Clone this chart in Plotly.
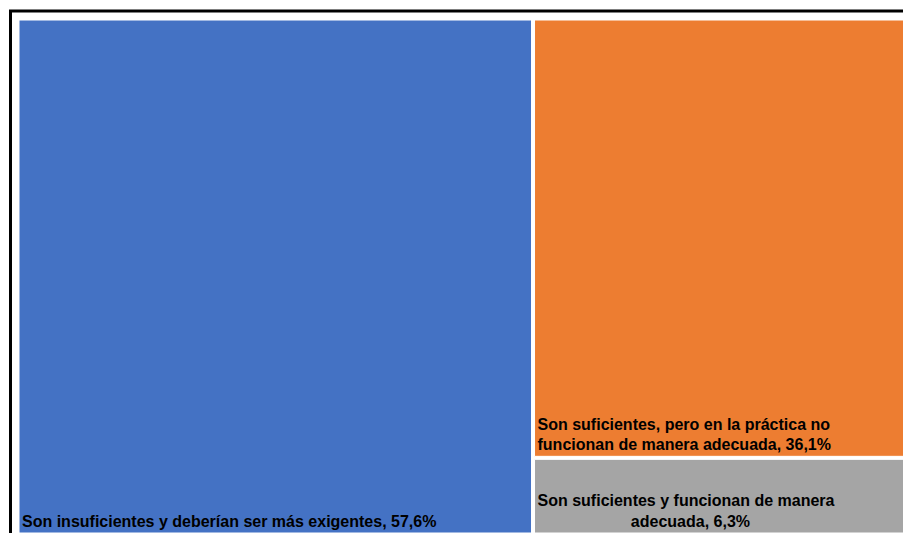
import plotly.graph_objects as go

labels = [
    "Son insuficientes y deberían ser más exigentes",
    "Son suficientes, pero en la práctica no funcionan de manera adecuada",
    "Son suficientes y funcionan de manera adecuada",
]
display_labels = [
    "Son insuficientes y deberían ser más exigentes",
    "Son suficientes, pero en la práctica no<br>funcionan de manera adecuada",
    "Son suficientes y funcionan de manera<br>" + "&nbsp;" * 21 + "adecuada",
]
values = [57.6, 36.1, 6.3]
colors = ["#4472C4", "#ED7D31", "#A5A5A5"]

texts = [f"{d}, {str(v).replace('.', ',')}%" for d, v in zip(display_labels, values)]

W, H = 903, 525
ml, mr, mt, mb = 11, 0, 12, 0
pw, ph = W - ml - mr, H - mt - mb

fig = go.Figure(go.Treemap(
    labels=labels,
    parents=[""] * len(labels),
    values=values,
    text=texts,
    textinfo="text",
    textposition="bottom left",
    marker=dict(colors=colors, line=dict(color="white", width=1), pad=dict(t=0, l=0, r=0, b=0)),
    textfont=dict(family="Liberation Sans, Arial, sans-serif", size=16, color="black", weight="bold"),
    pathbar=dict(visible=False),
    sort=True,
    hoverinfo="label+value",
))

fig.add_shape(
    type="rect", xref="paper", yref="paper",
    x0=(2.5 - ml) / pw, x1=1.2,
    y0=-0.2, y1=1 + (mt - 3) / ph,
    line=dict(color="black", width=3), fillcolor="rgba(0,0,0,0)",
)

fig.update_layout(
    width=W, height=H,
    margin=dict(l=ml, r=mr, t=mt, b=mb),
    paper_bgcolor="white",
    showlegend=False,
    uniformtext=dict(minsize=16, mode="show"),
)

fig.write_html("out.html")
